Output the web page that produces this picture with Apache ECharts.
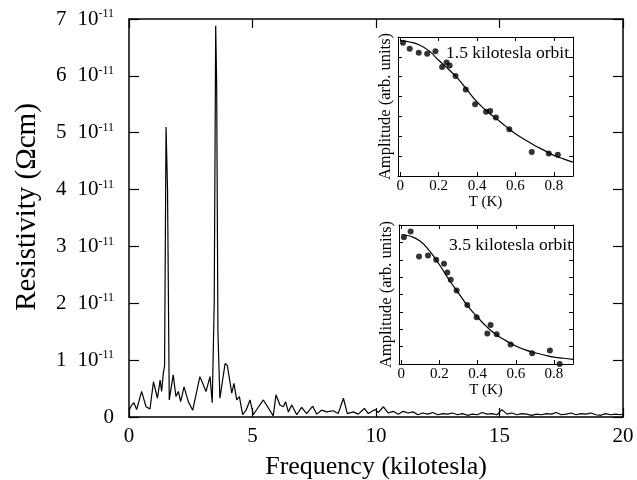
<!DOCTYPE html>
<html>
<head>
<meta charset="utf-8">
<script src="https://cdn.jsdelivr.net/npm/echarts@6/dist/echarts.min.js"></script>
<style>html,body{margin:0;padding:0;background:#fff}#c{width:637px;height:480px}</style>
</head>
<body>
<div id="c"></div>
<script>
// ---- main spectrum (frequency in kilotesla, resistivity in units of 1e-11 Ohm cm)
var freq = [0,0.11,0.2,0.31,0.51,0.69,0.85,0.99,1.15,1.26,1.32,1.39,1.44,1.5,1.56,1.63,1.79,1.9,2.0,2.09,2.23,2.4,2.58,2.87,3.12,3.28,3.37,3.45,3.51,3.55,3.6,3.68,3.89,3.98,4.16,4.25,4.36,4.47,4.6,4.74,4.9,5.03,5.2,5.44,5.84,5.95,6.11,6.25,6.34,6.45,6.59,6.79,6.99,7.19,7.44,7.6,7.8,8.0,8.27,8.47,8.68,8.84,9.08,9.28,9.53,9.69,9.96,
  10.1,10.3,10.5,10.7,10.9,11.1,11.3,11.5,11.7,11.9,12.1,12.3,12.5,12.7,12.9,13.1,13.3,13.5,13.7,13.9,14.1,14.3,14.5,14.7,14.9,15.1,15.3,15.5,15.7,15.9,16.1,16.3,16.5,16.7,16.9,17.1,17.3,17.5,17.7,17.9,18.1,18.3,18.5,18.7,18.9,19.1,19.3,19.5,19.7,19.9,20];
var resistivity = [0.12,0.21,0.25,0.13,0.45,0.18,0.14,0.62,0.33,0.65,0.45,0.77,0.9,5.1,4.0,0.3,0.74,0.36,0.45,0.27,0.53,0.27,0.12,0.71,0.45,0.71,0.25,2.0,6.88,5.8,1.5,0.33,0.94,0.91,0.42,0.59,0.30,0.36,0.04,0.12,0.30,0.04,0.15,0.30,0.02,0.39,0.21,0.18,0.27,0.09,0.21,0.04,0.17,0.06,0.19,0.05,0.12,0.09,0.11,0.06,0.33,0.06,0.09,0.05,0.15,0.06,0.13,
  0.08,0.18,0.07,0.1,0.05,0.1,0.07,0.09,0.04,0.07,0.05,0.08,0.04,0.06,0.05,0.07,0.04,0.06,0.03,0.05,0.04,0.08,0.05,0.06,0.04,0.13,0.05,0.07,0.04,0.06,0.05,0.03,0.05,0.04,0.06,0.05,0.08,0.04,0.05,0.07,0.04,0.06,0.05,0.07,0.04,0.03,0.06,0.04,0.05,0.04,0.05];
var yTicks = [0,1,2,3,4,5,6,7];
var xTicks = [0,5,10,15,20];

// ---- inset 1: 1.5 kilotesla orbit
var t1 = [0.014,0.049,0.096,0.14,0.183,0.218,0.241,0.257,0.288,0.341,0.39,0.447,0.468,0.498,0.568,0.685,0.774,0.821];
var a1 = [6.71,6.41,6.21,6.16,6.28,5.49,5.71,5.57,5.04,4.36,3.61,3.24,3.27,2.94,2.35,1.21,1.13,1.07];
var fitT = [0,0.05,0.1,0.15,0.2,0.25,0.3,0.35,0.4,0.45,0.5,0.55,0.6,0.65,0.7,0.75,0.8,0.85,0.9];
var fit1 = [6.80,6.75,6.6,6.3,5.83,5.39,4.9,4.31,3.73,3.27,2.89,2.5,2.13,1.83,1.54,1.29,1.04,0.86,0.7];

// ---- inset 2: 3.5 kilotesla orbit
var t2 = [0.014,0.049,0.093,0.14,0.183,0.224,0.241,0.259,0.29,0.346,0.395,0.451,0.468,0.5,0.573,0.686,0.779,0.83];
var a2 = [7.29,7.63,6.19,6.25,6.0,5.77,5.27,4.85,4.23,3.40,2.69,1.75,2.25,1.71,1.12,0.62,0.77,0.0];
var fit2 = [7.44,7.35,7.06,6.48,5.71,4.85,4.08,3.31,2.69,2.12,1.67,1.33,1.04,0.81,0.65,0.52,0.40,0.33,0.27];
var insetTicks = [0,0.2,0.4,0.6,0.8];

function zip(a,b){return a.map(function(v,i){return [v,b[i]];});}
var FONT = 'Liberation Serif';
var BLACK = '#000';

function insetX(grid, top){
  return {
    type:'value', gridIndex:grid, min:-0.012, max:0.9, position: top?'top':'bottom',
    axisLine:{show:true,onZero:false,lineStyle:{color:BLACK,width:1}},
    axisTick:{show:true,inside:true,length:4,customValues:insetTicks,lineStyle:{color:BLACK}},
    axisLabel:{show:!top,customValues:insetTicks,color:BLACK,fontFamily:FONT,fontSize:15,margin:3,
      formatter:function(v){return v===0?'0':v.toFixed(1);}},
    splitLine:{show:false},
    name: top?'':'T (K)', nameLocation:'middle', nameGap:19,
    nameTextStyle:{color:BLACK,fontFamily:FONT,fontSize:15}
  };
}
function insetY(grid, right, max){
  return {
    type:'value', gridIndex:grid, min:0, max:max, interval:1, position: right?'right':'left',
    axisLine:{show:true,onZero:false,lineStyle:{color:BLACK,width:1}},
    axisTick:{show:true,inside:true,length:4,lineStyle:{color:BLACK}},
    axisLabel:{show:false}, splitLine:{show:false},
    name: right?'':'Amplitude (arb. units)', nameLocation:'middle', nameGap:4,
    nameTextStyle:{color:BLACK,fontFamily:FONT,fontSize:16.5}
  };
}

var chart = echarts.init(document.getElementById('c'), null, {renderer:'canvas'});
chart.setOption({
  backgroundColor:'#fff',
  animation:false,
  grid:[
    {left:129, top:19, width:494, height:398, outerBoundsMode:'none', containLabel:false},
    {left:398, top:37, width:175, height:139, show:true, backgroundColor:'#fff', borderWidth:0, outerBoundsMode:'none', containLabel:false},
    {left:399, top:225, width:174, height:139, show:true, backgroundColor:'#fff', borderWidth:0, outerBoundsMode:'none', containLabel:false}
  ],
  xAxis:[
    {type:'value', gridIndex:0, min:0, max:20, interval:5, position:'bottom',
     axisLine:{show:true,onZero:false,lineStyle:{color:BLACK,width:1.5}},
     axisTick:{show:true,inside:true,length:9,lineStyle:{color:BLACK,width:1.2}},
     axisLabel:{color:BLACK,fontFamily:FONT,fontSize:21,margin:9},
     splitLine:{show:false},
     name:'Frequency (kilotesla)', nameLocation:'middle', nameGap:37,
     nameTextStyle:{color:BLACK,fontFamily:FONT,fontSize:26}},
    {type:'value', gridIndex:0, min:0, max:20, interval:5, position:'top',
     axisLine:{show:true,onZero:false,lineStyle:{color:BLACK,width:1.5}},
     axisTick:{show:true,inside:true,length:9,lineStyle:{color:BLACK,width:1.2}},
     axisLabel:{show:false}, splitLine:{show:false}},
    insetX(1,false), insetX(1,true), insetX(2,false), insetX(2,true)
  ],
  yAxis:[
    {type:'value', gridIndex:0, min:0, max:7, interval:1, position:'left',
     axisLine:{show:true,onZero:false,lineStyle:{color:BLACK,width:1.5}},
     axisTick:{show:true,inside:true,length:10,lineStyle:{color:BLACK,width:1.2}},
     axisLabel:{color:BLACK,fontFamily:FONT,fontSize:21,margin:15,
       formatter:function(v){return v===0?'{z|0}':'{a|'+v+'}{b|10}{s|-11}';},
       rich:{a:{fontFamily:FONT,fontSize:21,color:BLACK,padding:[0,11,0,0]},
             z:{fontFamily:FONT,fontSize:21,color:BLACK},
             b:{fontFamily:FONT,fontSize:21,color:BLACK},
             s:{fontFamily:FONT,fontSize:12,color:BLACK,padding:[0,0,10,0]}}},
     splitLine:{show:false}},
    {type:'value', gridIndex:0, min:0, max:7, interval:1, position:'right',
     axisLine:{show:true,onZero:false,lineStyle:{color:BLACK,width:1.5}},
     axisTick:{show:true,inside:true,length:10,lineStyle:{color:BLACK,width:1.2}},
     axisLabel:{show:false}, splitLine:{show:false}},
    insetY(1,false,7), insetY(1,true,7), insetY(2,false,8), insetY(2,true,8)
  ],
  graphic:[
    {type:'text', x:27, y:207, rotation:Math.PI/2,
     style:{text:'Resistivity (\u03A9cm)', fontFamily:FONT, fontSize:29, fill:BLACK, align:'center', verticalAlign:'middle'}},
    {type:'text', x:569, y:53, z:100,
     style:{text:'1.5 kilotesla orbit', fontFamily:FONT, fontSize:17.5, fill:BLACK, align:'right', verticalAlign:'middle'}},
    {type:'text', x:572, y:245, z:100,
     style:{text:'3.5 kilotesla orbit', fontFamily:FONT, fontSize:17.5, fill:BLACK, align:'right', verticalAlign:'middle'}}
  ],
  series:[
    {type:'line', xAxisIndex:0, yAxisIndex:0, data:zip(freq,resistivity), showSymbol:false,
     lineStyle:{color:BLACK,width:1.2}, z:3},
    {type:'line', xAxisIndex:2, yAxisIndex:2, data:zip(fitT,fit1), showSymbol:false, smooth:true,
     lineStyle:{color:BLACK,width:1.2}, z:5},
    {type:'scatter', xAxisIndex:2, yAxisIndex:2, data:zip(t1,a1), symbolSize:6,
     itemStyle:{color:BLACK}, z:6},
    {type:'line', xAxisIndex:4, yAxisIndex:4, data:zip(fitT,fit2), showSymbol:false, smooth:true,
     lineStyle:{color:BLACK,width:1.2}, z:5},
    {type:'scatter', xAxisIndex:4, yAxisIndex:4, data:zip(t2,a2), symbolSize:6,
     itemStyle:{color:BLACK}, z:6}
  ]
});
</script>
</body>
</html>
